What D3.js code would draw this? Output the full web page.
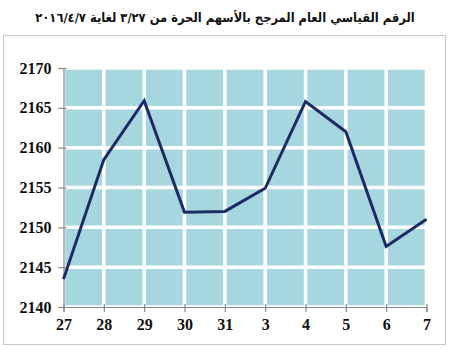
<!DOCTYPE html>
<html><head><meta charset="utf-8">
<script src="https://cdn.jsdelivr.net/npm/d3@7/dist/d3.min.js"></script>
<style>body{margin:0;background:#fff}svg{display:block}</style>
</head><body>
<script>
const title = "الرقم القياسي العام المرجح بالأسهم الحرة من ٣/٢٧ لغاية ٢٠١٦/٤/٧";
const categories = ["27","28","29","30","31","3","4","5","6","7"];
const values = [2143.5, 2158.5, 2165.9, 2151.9, 2152.0, 2154.9, 2165.8, 2162.0, 2147.6, 2151.0];
const yTicks = [2140, 2145, 2150, 2155, 2160, 2165, 2170];

const W = 450, H = 350;
const svg = d3.select("body").append("svg").attr("width", W).attr("height", H);

svg.append("rect").attr("x", 3.5).attr("y", 35.5).attr("width", 442).attr("height", 309)
  .attr("fill", "#fff").attr("stroke", "#c8c8c0").attr("stroke-width", 1);

const t = svg.append("text").attr("x", 225).attr("y", 22).attr("text-anchor", "middle")
  .attr("direction", "rtl")
  .attr("font-family", "'DejaVu Sans Condensed', 'DejaVu Sans', sans-serif").attr("font-weight", "bold")
  .attr("font-size", 14).attr("fill", "#111").text(title);
const tw = t.node().getComputedTextLength();
if (tw > 0) t.attr("font-size", 14 * 380 / tw);

const x = d3.scalePoint().domain(categories).range([63.5, 426.5]);
const y = d3.scaleLinear().domain([2140, 2170]).range([307, 68]);

const g = svg.append("g");
g.append("rect").attr("x", x.range()[0]).attr("y", y(2170))
  .attr("width", x.range()[1] - x.range()[0]).attr("height", y(2140) - y(2170))
  .attr("fill", "#a6d6de");

g.selectAll(".vg").data(categories).enter().append("line")
  .attr("x1", d => x(d)).attr("x2", d => x(d)).attr("y1", y(2170)).attr("y2", y(2140))
  .attr("stroke", "#fff").attr("stroke-width", 3.5);
g.selectAll(".hg").data(yTicks).enter().append("line")
  .attr("x1", x.range()[0]).attr("x2", x.range()[1]).attr("y1", d => y(d)).attr("y2", d => y(d))
  .attr("stroke", "#fff").attr("stroke-width", 3.5);

const yAxis = svg.append("g").attr("transform", `translate(${x.range()[0]},0)`)
  .call(d3.axisLeft(y).tickValues(yTicks).tickSize(5).tickPadding(7).tickFormat(d3.format("d")));
const xAxis = svg.append("g").attr("transform", `translate(0,${y(2140)})`)
  .call(d3.axisBottom(x).tickSize(5).tickPadding(7));
[yAxis, xAxis].forEach(a => {
  a.select(".domain").attr("stroke", "#8a8a8a").attr("stroke-width", 1.2);
  a.selectAll(".tick line").attr("stroke", "#8a8a8a").attr("stroke-width", 1.2);
  a.selectAll("text").attr("font-family", "'Liberation Serif', serif").attr("font-weight", "bold")
    .attr("font-size", 16).attr("fill", "#111");
});
xAxis.selectAll(".tick line").attr("y1", -3);
yAxis.selectAll(".tick line").attr("x2", 3).attr("x1", -5);

const line = d3.line().x((d, i) => x(categories[i])).y(d => y(d));
svg.append("path").datum(values).attr("d", line).attr("fill", "none")
  .attr("stroke", "#1d2a66").attr("stroke-width", 3).attr("stroke-linejoin", "miter");
</script>
</body></html>
